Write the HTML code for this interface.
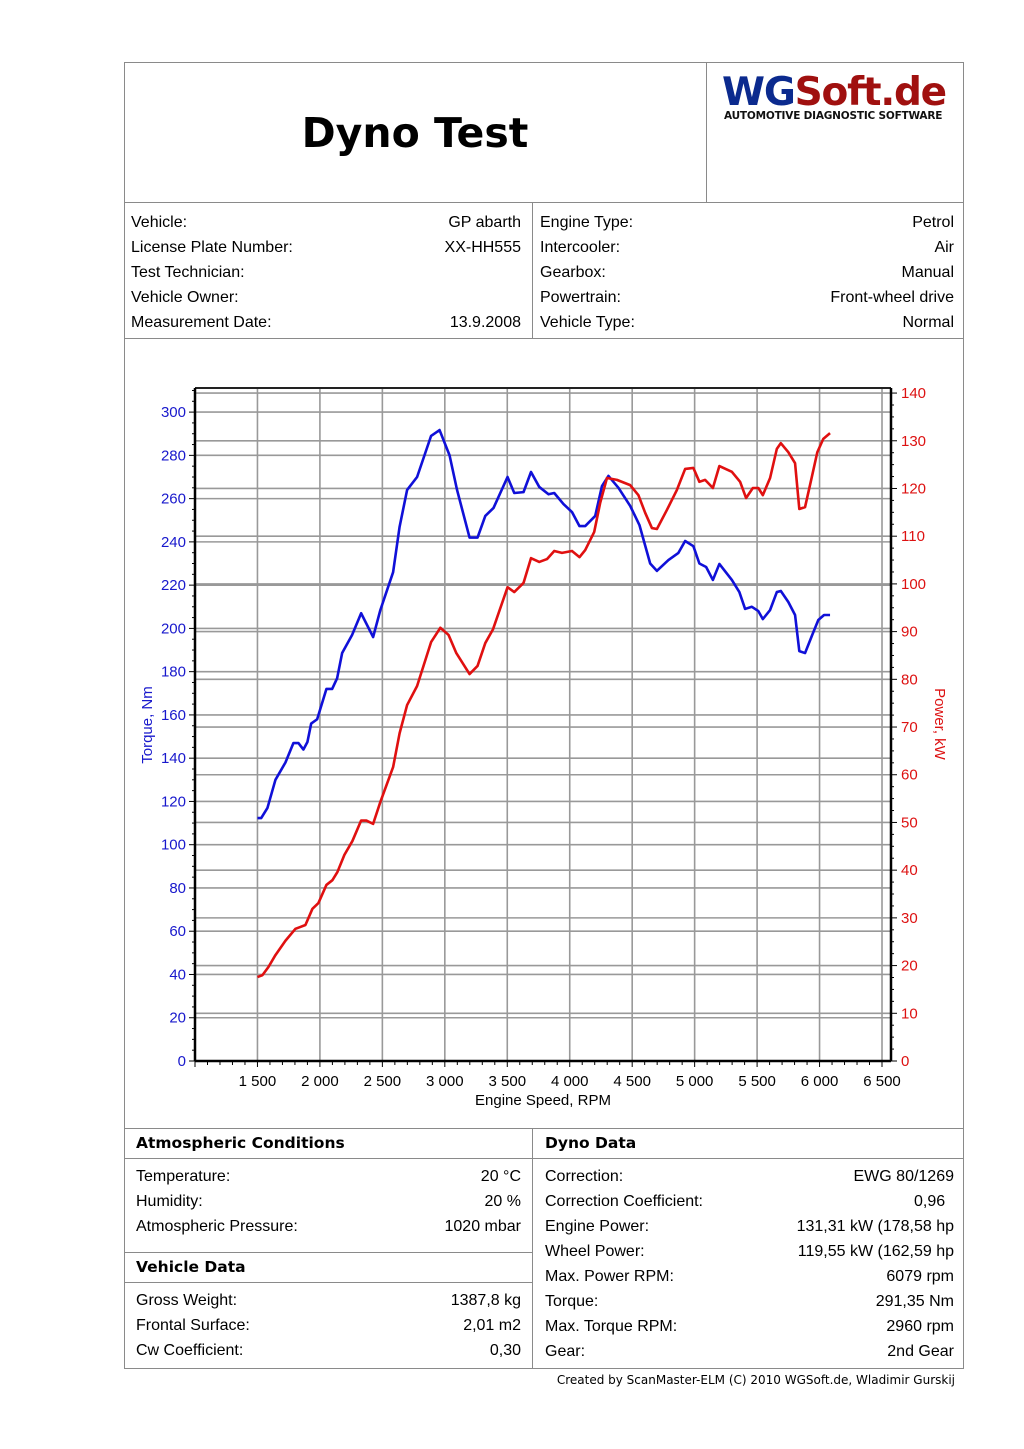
<!DOCTYPE html>
<html><head><meta charset="utf-8">
<style>
html,body{margin:0;padding:0;background:#fff;}
body{width:1024px;height:1449px;position:relative;overflow:hidden;font-family:"Liberation Sans",Arial,sans-serif;color:#000;}
.abs{position:absolute;}
.b{border:1px solid #8a8a8a;box-sizing:border-box;}
.row{position:absolute;height:25px;line-height:25px;font-size:16px;}
.row .l{position:absolute;left:0;}
.row .v{position:absolute;right:0;}
.hd{font-family:"DejaVu Sans",Verdana,sans-serif;font-weight:bold;font-size:15.5px;position:absolute;}
</style></head><body>
<div class="abs b" style="left:124px;top:62px;width:840px;height:1307px;"></div>
<div class="abs" style="left:706px;top:62px;width:1px;height:140px;background:#8a8a8a"></div>
<div class="abs" style="left:124px;top:202px;width:840px;height:1px;background:#8a8a8a"></div>
<div class="abs" style="left:124px;width:582px;top:105px;text-align:center;font-family:'DejaVu Sans',Verdana,sans-serif;font-weight:bold;font-size:41px;line-height:56px;">Dyno Test</div>
<div class="abs" style="left:722px;top:70px;font-family:'DejaVu Sans',Verdana,sans-serif;font-weight:bold;font-size:39px;line-height:46px;letter-spacing:-1.2px;"><span style="color:#0b2a8e">WG</span><span style="color:#a0100f">Soft.de</span></div>
<div class="abs" style="left:724px;top:110px;font-family:'DejaVu Sans',Verdana,sans-serif;font-weight:bold;font-size:10.5px;line-height:13px;color:#111;letter-spacing:-0.2px;">AUTOMOTIVE DIAGNOSTIC SOFTWARE</div>

<div class="abs" style="left:532px;top:202px;width:1px;height:136px;background:#8a8a8a"></div>
<div class="abs" style="left:124px;top:338px;width:840px;height:1px;background:#8a8a8a"></div>

<div class="abs" style="left:131px;top:210px;width:390px;">
<div class="row" style="top:0;width:390px"><span class="l">Vehicle:</span><span class="v">GP abarth</span></div>
<div class="row" style="top:25px;width:390px"><span class="l">License Plate Number:</span><span class="v">XX-HH555</span></div>
<div class="row" style="top:50px;width:390px"><span class="l">Test Technician:</span><span class="v"></span></div>
<div class="row" style="top:75px;width:390px"><span class="l">Vehicle Owner:</span><span class="v"></span></div>
<div class="row" style="top:100px;width:390px"><span class="l">Measurement Date:</span><span class="v">13.9.2008</span></div>
</div>
<div class="abs" style="left:540px;top:210px;width:414px;">
<div class="row" style="top:0;width:414px"><span class="l">Engine Type:</span><span class="v">Petrol</span></div>
<div class="row" style="top:25px;width:414px"><span class="l">Intercooler:</span><span class="v">Air</span></div>
<div class="row" style="top:50px;width:414px"><span class="l">Gearbox:</span><span class="v">Manual</span></div>
<div class="row" style="top:75px;width:414px"><span class="l">Powertrain:</span><span class="v">Front-wheel drive</span></div>
<div class="row" style="top:100px;width:414px"><span class="l">Vehicle Type:</span><span class="v">Normal</span></div>
</div>

<svg id="chart" class="abs" style="left:0;top:0" width="1024" height="1449" xmlns="http://www.w3.org/2000/svg"></svg>

<div class="abs" style="left:124px;top:1128px;width:840px;height:1px;background:#8a8a8a"></div>
<div class="abs" style="left:532px;top:1128px;width:1px;height:241px;background:#8a8a8a"></div>
<div class="abs" style="left:124px;top:1158px;width:840px;height:1px;background:#8a8a8a"></div>
<div class="abs" style="left:124px;top:1252px;width:408px;height:1px;background:#8a8a8a"></div>
<div class="abs" style="left:124px;top:1282px;width:408px;height:1px;background:#8a8a8a"></div>

<div class="hd" style="left:136px;top:1134px;">Atmospheric Conditions</div>
<div class="hd" style="left:545px;top:1134px;">Dyno Data</div>
<div class="hd" style="left:136px;top:1258px;">Vehicle Data</div>

<div class="abs" style="left:136px;top:1164px;width:385px;">
<div class="row" style="top:0;width:385px"><span class="l">Temperature:</span><span class="v">20 °C</span></div>
<div class="row" style="top:25px;width:385px"><span class="l">Humidity:</span><span class="v">20 %</span></div>
<div class="row" style="top:50px;width:385px"><span class="l">Atmospheric Pressure:</span><span class="v">1020 mbar</span></div>
</div>
<div class="abs" style="left:136px;top:1288px;width:385px;">
<div class="row" style="top:0;width:385px"><span class="l">Gross Weight:</span><span class="v">1387,8 kg</span></div>
<div class="row" style="top:25px;width:385px"><span class="l">Frontal Surface:</span><span class="v">2,01 m2</span></div>
<div class="row" style="top:50px;width:385px"><span class="l">Cw Coefficient:</span><span class="v">0,30</span></div>
</div>
<div class="abs" style="left:545px;top:1164px;width:409px;">
<div class="row" style="top:0;width:409px"><span class="l">Correction:</span><span class="v">EWG 80/1269</span></div>
<div class="row" style="top:25px;width:409px"><span class="l">Correction Coefficient:</span><span class="v">0,96&nbsp;&nbsp;</span></div>
<div class="row" style="top:50px;width:409px"><span class="l">Engine Power:</span><span class="v">131,31 kW (178,58 hp</span></div>
<div class="row" style="top:75px;width:409px"><span class="l">Wheel Power:</span><span class="v">119,55 kW (162,59 hp</span></div>
<div class="row" style="top:100px;width:409px"><span class="l">Max. Power RPM:</span><span class="v">6079 rpm</span></div>
<div class="row" style="top:125px;width:409px"><span class="l">Torque:</span><span class="v">291,35 Nm</span></div>
<div class="row" style="top:150px;width:409px"><span class="l">Max. Torque RPM:</span><span class="v">2960 rpm</span></div>
<div class="row" style="top:175px;width:409px"><span class="l">Gear:</span><span class="v">2nd Gear</span></div>
</div>
<div class="abs" style="right:69px;top:1372px;font-family:'DejaVu Sans',Verdana,sans-serif;font-size:12px;line-height:16px;">Created by ScanMaster-ELM (C) 2010 WGSoft.de, Wladimir Gurskij</div>

<script>
const rpmTorque=[1500,1530,1580,1644,1724,1788,1828,1868,1900,1930,1978,2052,2098,2138,2178,2258,2330,2426,2484,2586,2638,2698,2778,2890,2958,3038,3098,3198,3262,3324,3390,3502,3556,3630,3690,3756,3830,3876,3950,4018,4078,4124,4204,4258,4310,4390,4484,4558,4644,4698,4790,4870,4924,4990,5038,5092,5146,5198,5298,5358,5404,5458,5510,5546,5604,5658,5690,5750,5804,5838,5884,5938,5990,6036,6084];
const torqueValues=[112.3,112.3,117,130,138,147,147,144,147.5,156,158,172,172,177,188.6,197,207,196,208.5,226,247,264,270,289,291.7,280,264,242,242,252,255.7,270,262.6,263,272.3,265.4,262,262.6,257.5,253.8,247.3,247.3,252,265.8,270.5,265,256.6,247.8,230,226.6,231.6,234.9,240.4,238,230,228.4,222.4,229.8,222.4,216.8,209,210,208,204.3,208.5,216.8,217.3,212.2,206.2,189.5,188.6,196.5,203.9,206.2,206.2];
const rpmPower=[1500,1540,1588,1644,1724,1804,1844,1884,1940,1988,2052,2100,2140,2196,2260,2330,2372,2426,2484,2586,2638,2698,2778,2890,2964,3030,3092,3198,3262,3324,3386,3502,3556,3630,3690,3756,3818,3876,3938,4018,4078,4124,4196,4244,4298,4378,4484,4550,4604,4658,4698,4778,4858,4924,4990,5038,5084,5146,5198,5298,5364,5412,5466,5510,5546,5604,5658,5690,5750,5804,5838,5884,5938,5982,6030,6084];
const powerValues=[17.6,18,19.7,22.2,25.2,27.7,28.1,28.5,31.9,33.1,36.9,37.9,39.6,43.2,46.1,50.4,50.4,49.7,54.3,61.6,68.7,74.6,78.6,87.8,90.8,89.3,85.5,81.1,82.8,87.6,90.5,99.3,98.3,100.2,105.4,104.6,105.2,106.9,106.5,106.9,105.6,107.1,110.9,117,122.2,121.8,120.7,118.6,114.9,111.7,111.5,115.5,119.7,124.1,124.3,121.4,121.8,120.1,124.7,123.5,121.4,118,120.1,120.1,118.6,122.2,128.3,129.5,127.6,125.3,115.7,116.1,122.4,127.6,130.4,131.6];
const xTicks=[1500,2000,2500,3000,3500,4000,4500,5000,5500,6000,6500];
const xTickLabels=["1 500","2 000","2 500","3 000","3 500","4 000","4 500","5 000","5 500","6 000","6 500"];
const torqueTicks=[0,20,40,60,80,100,120,140,160,180,200,220,240,260,280,300];
const powerTicks=[0,10,20,30,40,50,60,70,80,90,100,110,120,130,140];

const svg=document.getElementById('chart');
const NS='http://www.w3.org/2000/svg';
const L=195,R=891,T=388,B=1061;
const xS=v=>L+(v-1000)*(R-L)/5572;
const yT=v=>B-v*2.163;
const yP=v=>B-v*4.771;
function mk(tag,attrs,parent){const e=document.createElementNS(NS,tag);for(const k in attrs)e.setAttribute(k,attrs[k]);(parent||svg).appendChild(e);return e;}
const grid=mk('g',{});


xTicks.forEach(v=>{mk('line',{x1:xS(v),x2:xS(v),y1:T,y2:B,stroke:'#999','stroke-width':1.6},grid);});
torqueTicks.forEach(v=>{mk('line',{x1:L,x2:R,y1:yT(v),y2:yT(v),stroke:'#999','stroke-width':1.6},grid);});
powerTicks.forEach(v=>{mk('line',{x1:L,x2:R,y1:yP(v),y2:yP(v),stroke:'#999','stroke-width':1.6},grid);});
const ax=mk('g',{});


mk('line',{x1:L,x2:R,y1:T,y2:T,stroke:'#222','stroke-width':2},ax);
mk('line',{x1:L,x2:R,y1:B,y2:B,stroke:'#000','stroke-width':2.5},ax);
mk('line',{x1:L,x2:L,y1:T,y2:B,stroke:'#000','stroke-width':2.5},ax);
mk('line',{x1:R,x2:R,y1:T,y2:B,stroke:'#000','stroke-width':2.5},ax);
for(let v=1000;v<=6500;v+=100){mk('line',{x1:xS(v),x2:xS(v),y1:B,y2:B+(v%500==0?6:4),stroke:'#000','stroke-width':1},ax);}
for(let v=0;v<=310;v+=5){mk('line',{x1:L-(v%20==0?6:3),x2:L,y1:yT(v),y2:yT(v),stroke:'#000','stroke-width':1},ax);}
for(let v=0;v<=142;v+=2.5){mk('line',{x1:R,x2:R+(v%10==0?6:3),y1:yP(v),y2:yP(v),stroke:'#000','stroke-width':1},ax);}
xTicks.forEach((v,i)=>{const t=mk('text',{x:xS(v),y:1086,'text-anchor':'middle','font-size':15,'font-family':'Liberation Sans, sans-serif'},ax);t.textContent=xTickLabels[i];});
torqueTicks.forEach(v=>{const t=mk('text',{x:186,y:yT(v)+5,'text-anchor':'end','font-size':15,fill:'#1818cc','font-family':'Liberation Sans, sans-serif'},ax);t.textContent=v;});
powerTicks.forEach(v=>{const t=mk('text',{x:901,y:yP(v)+5,'text-anchor':'start','font-size':15,fill:'#dd1111','font-family':'Liberation Sans, sans-serif'},ax);t.textContent=v;});
const xt=mk('text',{x:543,y:1105,'text-anchor':'middle','font-size':15,'font-family':'Liberation Sans, sans-serif'});


xt.textContent='Engine Speed, RPM';
const yl=mk('text',{x:0,y:0,'text-anchor':'middle','font-size':15,fill:'#1818cc','font-family':'Liberation Sans, sans-serif',transform:'translate(152,725) rotate(-90)'});


yl.textContent='Torque, Nm';
const yr=mk('text',{x:0,y:0,'text-anchor':'middle','font-size':15,fill:'#dd1111','font-family':'Liberation Sans, sans-serif',transform:'translate(935,724) rotate(90)'});


yr.textContent='Power, kW';
const tl=mk('polyline',{points:rpmTorque.map((r,i)=>xS(r)+','+yT(torqueValues[i])).join(' '),fill:'none',stroke:'#1010d8','stroke-width':2.6,'stroke-linejoin':'round'});


const pl=mk('polyline',{points:rpmPower.map((r,i)=>xS(r)+','+yP(powerValues[i])).join(' '),fill:'none',stroke:'#e01010','stroke-width':2.6,'stroke-linejoin':'round'});


</script>
</body></html>
